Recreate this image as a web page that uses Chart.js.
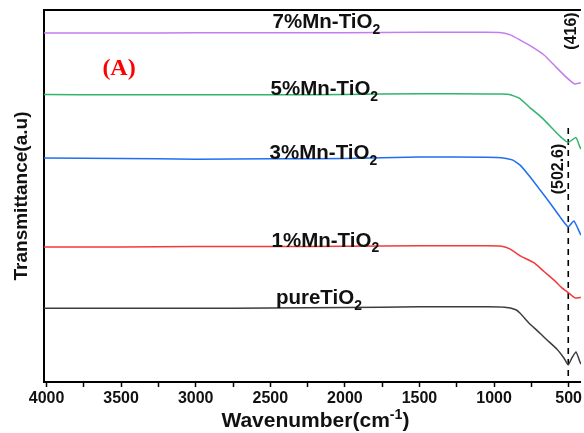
<!DOCTYPE html>
<html>
<head>
<meta charset="utf-8">
<title>FTIR Mn-TiO2</title>
<script src="https://cdn.jsdelivr.net/npm/chart.js@4.4.1/dist/chart.umd.min.js"></script>
<style>
  html, body { margin: 0; padding: 0; background: #fff; }
  canvas { display: block; }
</style>
</head>
<body>
<canvas id="ftir" width="584" height="433"></canvas>
<script>
// wavenumber (cm-1) and transmittance (a.u., offset for each sample)
const wn7 = [4017, 3500, 3000, 2500, 2000, 1500, 1050, 950, 891, 825, 745, 665, 598, 531, 478, 458, 425, 418]
const t7  = [93.8, 93.8, 93.9, 93.9, 93.9, 94.0, 94.0, 93.9, 93.3, 91.9, 90.1, 87.9, 85.2, 82.5, 80.6, 80.1, 80.4, 80.4]

const wn5 = [4017, 3500, 3000, 2500, 2000, 1500, 1050, 950, 898, 831, 758, 678, 598, 545, 503, 451, 425, 418]
const t5  = [77.3, 77.2, 77.2, 77.2, 77.3, 77.5, 77.4, 77.4, 77.3, 76.3, 73.7, 71.0, 67.7, 65.6, 64.4, 65.7, 63.2, 62.6]

const wn3 = [4017, 3500, 3000, 2500, 2000, 1500, 1050, 950, 878, 825, 758, 691, 625, 558, 503, 465, 425, 418]
const t3  = [60.2, 60.1, 59.9, 60.0, 60.1, 60.5, 60.4, 60.3, 59.7, 58.3, 55.1, 51.6, 48.1, 44.4, 41.7, 43.3, 40.1, 39.5]

const wn1 = [4017, 3500, 3000, 2500, 2000, 1500, 1050, 950, 891, 825, 731, 665, 598, 545, 498, 458, 425, 418]
const t1  = [36.3, 36.3, 36.4, 36.4, 36.5, 36.6, 36.6, 36.5, 35.7, 33.9, 32.0, 29.7, 27.4, 25.3, 23.9, 22.6, 22.7, 22.7]

const wnP = [4017, 3500, 3000, 2500, 2000, 1500, 1050, 930, 858, 825, 765, 711, 645, 578, 531, 503, 478, 451, 425, 418]
const tP  = [19.8, 19.8, 19.8, 19.9, 20.0, 20.2, 20.2, 20.1, 19.5, 18.5, 15.8, 13.8, 11.3, 8.8, 6.4, 4.6, 6.5, 8.1, 5.5, 4.8]

const names = ['pureTiO', '1%Mn-TiO', '3%Mn-TiO', '5%Mn-TiO', '7%Mn-TiO']
const colors = ['#3c3c3c', '#f23a3a', '#1f6ff0', '#2fb56c', '#c47cf0']
const xTicks = [4000, 3750, 3500, 3250, 3000, 2750, 2500, 2250, 2000, 1750, 1500, 1250, 1000, 750, 500]
const peakWn = 502.6

function pts(xs, ys) {
  return xs.map((x, i) => ({ x: x, y: ys[i] }))
}

const series = [pts(wnP, tP), pts(wn1, t1), pts(wn3, t3), pts(wn5, t5), pts(wn7, t7)]

const FONT = '"Liberation Sans", Arial, sans-serif'

// draws text pieces with sub / superscripts, centred on x
function drawRich(ctx, parts, x, y, size) {
  let w = 0
  parts.forEach(p => {
    const s = p.s ? size * 0.68 : size
    ctx.font = 'bold ' + s + 'px ' + FONT
    p.w = ctx.measureText(p.t).width
    w += p.w
  })
  let cx = x - w / 2
  ctx.textAlign = 'left'
  parts.forEach(p => {
    const s = p.s ? size * 0.68 : size
    ctx.font = 'bold ' + s + 'px ' + FONT
    let dy = 0
    if (p.s === 'sub') dy = size * 0.28
    if (p.s === 'sup') dy = -size * 0.4
    ctx.fillText(p.t, cx, y + dy)
    cx += p.w
  })
}

const labelPos = [
  { wn: 2174, t: 21.0 },
  { wn: 2131, t: 36.4 },
  { wn: 2144, t: 59.9 },
  { wn: 2138, t: 77.2 },
  { wn: 2124, t: 95.1 }
]

const decor = {
  id: 'decor',
  afterDraw(chart) {
    const ctx = chart.ctx
    const a = chart.chartArea
    const xs = chart.scales.x, ys = chart.scales.y
    ctx.save()
    // top frame line
    ctx.strokeStyle = '#000'
    ctx.lineWidth = 2
    ctx.beginPath()
    ctx.moveTo(a.left - 1, a.top)
    ctx.lineTo(a.right, a.top)
    ctx.stroke()

    ctx.fillStyle = '#111'
    ctx.textBaseline = 'alphabetic'
    names.forEach((n, i) => {
      const p = labelPos[i]
      drawRich(ctx, [{ t: n }, { t: '2', s: 'sub' }], xs.getPixelForValue(p.wn), ys.getPixelForValue(p.t), 20.5)
    })

    // axis titles
    drawRich(ctx, [{ t: 'Wavenumber(cm' }, { t: '-1', s: 'sup' }, { t: ')' }], (a.left + a.right) / 2 + 3, 427, 21)
    ctx.save()
    ctx.translate(22, (a.top + a.bottom) / 2)
    ctx.rotate(-Math.PI / 2)
    ctx.textAlign = 'center'
    ctx.textBaseline = 'middle'
    ctx.font = 'bold 19px ' + FONT
    ctx.fillText('Transmittance(a.u)', 0, 0)
    ctx.restore()

    // peak labels
    ctx.font = 'bold 16px ' + FONT
    ;[['(416)', 571.5, 31], ['(' + peakWn + ')', 558.5, 169]].forEach(l => {
      ctx.save()
      ctx.translate(l[1], l[2])
      ctx.rotate(-Math.PI / 2)
      ctx.textAlign = 'center'
      ctx.textBaseline = 'middle'
      ctx.fillText(l[0], 0, 0)
      ctx.restore()
    })

    // panel tag
    ctx.fillStyle = '#ff0000'
    ctx.font = 'bold 24px "Liberation Serif", "Times New Roman", serif'
    ctx.textAlign = 'center'
    ctx.textBaseline = 'alphabetic'
    ctx.fillText('(A)', xs.getPixelForValue(3514), ys.getPixelForValue(82.5))
    ctx.restore()
  }
}

const datasets = series.map((d, i) => ({
  label: names[i] + '2',
  data: d,
  borderColor: colors[i],
  backgroundColor: colors[i],
  borderWidth: 1.5,
  pointRadius: 0,
  tension: 0.15,
  fill: false
}))

datasets.push({
  label: 'peak',
  data: [{ x: peakWn, y: 68.3 }, { x: peakWn, y: 0 }],
  borderColor: '#000',
  borderWidth: 1.6,
  borderDash: [6, 5],
  pointRadius: 0
})

new Chart(document.getElementById('ftir').getContext('2d'), {
  type: 'line',
  data: { datasets: datasets },
  plugins: [decor],
  options: {
    responsive: false,
    animation: false,
    layout: { padding: { top: 10, left: 0, right: 0, bottom: 0 } },
    plugins: { legend: { display: false }, tooltip: { enabled: false } },
    scales: {
      x: {
        type: 'linear',
        reverse: true,
        min: 418,
        max: 4017,
        afterBuildTicks: s => { s.ticks = xTicks.map(v => ({ value: v })) },
        afterFit: s => { s.height = 51 },
        ticks: {
          autoSkip: false,
          maxRotation: 0,
          padding: 2,
          color: '#111',
          font: { family: FONT, size: 16, weight: 'bold' },
          callback: v => (v % 500 === 0 ? String(v) : '')
        },
        grid: { drawOnChartArea: false, tickLength: 5, tickColor: '#000', tickWidth: 1.5 },
        border: { color: '#000', width: 2 }
      },
      y: {
        min: 0,
        max: 100,
        afterFit: s => { s.width = 44 },
        ticks: { display: false },
        grid: { drawOnChartArea: false, drawTicks: false },
        border: { color: '#000', width: 2 }
      }
    }
  }
})
</script>
</body>
</html>
